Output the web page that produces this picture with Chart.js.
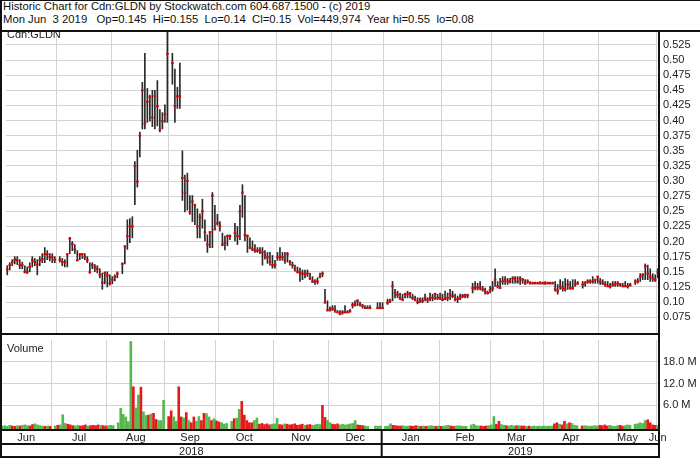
<!DOCTYPE html>
<html>
<head>
<meta charset="utf-8">
<title>Cdn:GLDN historic chart</title>
<script src="https://cdn.jsdelivr.net/npm/chart.js@4.4.1/dist/chart.umd.min.js"></script>
<style>
  body { margin: 0; width: 700px; height: 458px; overflow: hidden; background: #fff; position: relative;
         font-family: "Liberation Sans", Arial, sans-serif; color: #111; }
  #top { position: absolute; left: 0; top: 0; width: 700px; height: 27px; box-sizing: border-box;
         border-top: 1px solid #111; border-left: 2px solid #111; }
  #head { position: absolute; left: 3px; top: 0; font-size: 11.3px; line-height: 13px; white-space: pre; }
  .box { position: absolute; left: 0; width: 700px; }
  .tag { position: absolute; left: 7px; font-size: 11px; line-height: 13px; color: #222; }
</style>
</head>
<body>
<div id="top"></div>
<div id="head">Historic Chart for Cdn:GLDN by Stockwatch.com 604.687.1500 - (c) 2019
Mon Jun  3 2019   Op=0.145  Hi=0.155  Lo=0.14  Cl=0.15  Vol=449,974  Year hi=0.55  lo=0.08</div>
<div class="box" style="top:26px;height:314px"><canvas id="price"></canvas></div>
<div class="box" style="top:338px;height:120px"><canvas id="volume"></canvas></div>
<div class="tag" style="top:28px">Cdn:GLDN</div>
<div class="tag" style="top:342px">Volume</div>
<script>
// one slot per weekday, holidays stay empty
const startDay = "2018-06-04";
const endDay = "2019-06-03";
const holidays = ["2018-07-02", "2018-08-06", "2018-09-03", "2018-10-08", "2018-12-25", "2018-12-26",
                  "2019-01-01", "2019-02-18", "2019-04-19", "2019-05-20"];

const monthNames = ["Jun", "Jul", "Aug", "Sep", "Oct", "Nov", "Dec", "Jan", "Feb", "Mar", "Apr", "May", "Jun"];
const yearNames = ["2018", "2019"];
const priceTicks = [0.075, 0.1, 0.125, 0.15, 0.175, 0.2, 0.225, 0.25, 0.275, 0.3, 0.325, 0.35,
                    0.375, 0.4, 0.425, 0.45, 0.475, 0.5, 0.525];
const volumeTicks = [6, 12, 18];

// one value per trading day, a line per month
const highs = [
  0.16, 0.165, 0.17, 0.175, 0.175, 0.17, 0.166, 0.16, 0.158, 0.165, 0.175, 0.172, 0.17, 0.175, 0.18, 0.19, 0.185, 0.18, 0.18, 0.175,
  0.175, 0.172, 0.17, 0.18, 0.207, 0.2, 0.195, 0.185, 0.18, 0.18, 0.18, 0.175, 0.165, 0.165, 0.162, 0.16, 0.155, 0.148, 0.15, 0.15, 0.145,
  0.142, 0.145, 0.15, 0.165, 0.193, 0.236, 0.238, 0.241, 0.332, 0.351, 0.381, 0.463, 0.511, 0.453, 0.442, 0.45, 0.45, 0.466, 0.418, 0.413, 0.426, 0.55,
  0.511, 0.485, 0.455, 0.495, 0.35, 0.31, 0.313, 0.276, 0.276, 0.262, 0.254, 0.246, 0.27, 0.236, 0.211, 0.217, 0.281, 0.26, 0.245,
  0.233, 0.214, 0.209, 0.211, 0.211, 0.23, 0.225, 0.26, 0.294, 0.276, 0.211, 0.206, 0.201, 0.195, 0.19, 0.19, 0.19, 0.185, 0.182, 0.182, 0.177, 0.169,
  0.182, 0.19, 0.182, 0.182, 0.182, 0.169, 0.166, 0.161, 0.158, 0.156, 0.153, 0.153, 0.153, 0.148, 0.142, 0.137, 0.14, 0.148, 0.15, 0.121, 0.102, 0.092,
  0.094, 0.094, 0.086, 0.086, 0.086, 0.094, 0.086, 0.088, 0.099, 0.102, 0.104, 0.1, 0.096, 0.094, 0.094, 0.094, 0.099, 0.099, 0.099,
  0.105, 0.105, 0.134, 0.121, 0.118, 0.115, 0.113, 0.115, 0.118, 0.115, 0.113, 0.11, 0.107, 0.107, 0.107, 0.113, 0.107, 0.115, 0.113, 0.115, 0.113, 0.115,
  0.113, 0.118, 0.115, 0.121, 0.118, 0.113, 0.11, 0.113, 0.113, 0.113, 0.113, 0.131, 0.134, 0.131, 0.134, 0.126, 0.123, 0.118, 0.126,
  0.134, 0.155, 0.134, 0.139, 0.142, 0.142, 0.139, 0.139, 0.142, 0.142, 0.142, 0.142, 0.139, 0.137, 0.137, 0.134, 0.133, 0.133, 0.133, 0.134, 0.133,
  0.134, 0.133, 0.133, 0.133, 0.134, 0.129, 0.137, 0.134, 0.139, 0.137, 0.134, 0.137, 0.137, 0.134, 0.134, 0.134, 0.137, 0.137, 0.142, 0.137, 0.142,
  0.139, 0.137, 0.134, 0.134, 0.131, 0.134, 0.134, 0.134, 0.131, 0.131, 0.134, 0.131, 0.131, 0.137, 0.139, 0.147, 0.147, 0.163, 0.161, 0.155, 0.147, 0.145,
  0.155
];
const lows = [
  0.145, 0.153, 0.16, 0.163, 0.162, 0.155, 0.155, 0.148, 0.147, 0.15, 0.158, 0.16, 0.145, 0.16, 0.165, 0.165, 0.17, 0.168, 0.165, 0.165,
  0.166, 0.16, 0.158, 0.158, 0.18, 0.185, 0.18, 0.168, 0.17, 0.172, 0.17, 0.165, 0.148, 0.155, 0.15, 0.148, 0.14, 0.121, 0.13, 0.125, 0.128,
  0.13, 0.135, 0.14, 0.147, 0.163, 0.187, 0.198, 0.206, 0.261, 0.29, 0.34, 0.386, 0.386, 0.397, 0.399, 0.39, 0.386, 0.391, 0.381, 0.386, 0.397, 0.397,
  0.46, 0.397, 0.42, 0.42, 0.268, 0.249, 0.252, 0.245, 0.233, 0.228, 0.206, 0.206, 0.222, 0.201, 0.182, 0.19, 0.19, 0.22, 0.227,
  0.217, 0.193, 0.186, 0.193, 0.203, 0.201, 0.195, 0.203, 0.24, 0.201, 0.182, 0.188, 0.185, 0.182, 0.182, 0.18, 0.161, 0.171, 0.164, 0.161, 0.156, 0.156,
  0.169, 0.169, 0.169, 0.164, 0.166, 0.161, 0.156, 0.151, 0.148, 0.134, 0.137, 0.14, 0.142, 0.137, 0.132, 0.129, 0.13, 0.14, 0.142, 0.099, 0.086, 0.085,
  0.086, 0.083, 0.083, 0.08, 0.08, 0.083, 0.083, 0.083, 0.09, 0.093, 0.094, 0.093, 0.09, 0.09, 0.09, 0.09, 0.09, 0.09, 0.09,
  0.096, 0.099, 0.102, 0.107, 0.107, 0.104, 0.102, 0.107, 0.107, 0.107, 0.104, 0.102, 0.097, 0.099, 0.099, 0.102, 0.099, 0.102, 0.102, 0.104, 0.104, 0.104,
  0.102, 0.104, 0.102, 0.104, 0.107, 0.102, 0.099, 0.104, 0.107, 0.107, 0.107, 0.115, 0.12, 0.12, 0.12, 0.118, 0.113, 0.113, 0.115,
  0.118, 0.126, 0.123, 0.123, 0.129, 0.129, 0.129, 0.131, 0.131, 0.131, 0.131, 0.129, 0.131, 0.129, 0.131, 0.13, 0.13, 0.13, 0.13, 0.13, 0.13,
  0.129, 0.13, 0.13, 0.13, 0.118, 0.113, 0.121, 0.118, 0.118, 0.121, 0.121, 0.121, 0.126, 0.129, 0.123, 0.126, 0.131, 0.131, 0.131, 0.131, 0.131,
  0.129, 0.129, 0.126, 0.126, 0.123, 0.126, 0.126, 0.126, 0.126, 0.126, 0.126, 0.123, 0.126, 0.129, 0.131, 0.134, 0.137, 0.137, 0.137, 0.134, 0.134, 0.134,
  0.14
];
const closes = [
  0.154, 0.161, 0.166, 0.17, 0.169, 0.161, 0.161, 0.15, 0.15, 0.158, 0.169, 0.166, 0.162, 0.169, 0.171, 0.179, 0.179, 0.174, 0.174, 0.17,
  0.17, 0.166, 0.166, 0.179, 0.205, 0.196, 0.187, 0.169, 0.179, 0.179, 0.174, 0.169, 0.149, 0.161, 0.157, 0.155, 0.145, 0.132, 0.148, 0.144, 0.131,
  0.137, 0.142, 0.147, 0.163, 0.192, 0.209, 0.225, 0.225, 0.325, 0.299, 0.375, 0.45, 0.395, 0.431, 0.439, 0.405, 0.44, 0.424, 0.385, 0.399, 0.41, 0.51,
  0.495, 0.424, 0.44, 0.44, 0.305, 0.281, 0.3, 0.249, 0.266, 0.26, 0.225, 0.24, 0.25, 0.215, 0.195, 0.215, 0.276, 0.22, 0.23,
  0.225, 0.195, 0.198, 0.209, 0.209, 0.214, 0.209, 0.25, 0.281, 0.211, 0.209, 0.19, 0.187, 0.185, 0.185, 0.185, 0.182, 0.177, 0.174, 0.166, 0.161, 0.161,
  0.174, 0.175, 0.174, 0.169, 0.179, 0.166, 0.161, 0.155, 0.15, 0.148, 0.147, 0.146, 0.147, 0.139, 0.134, 0.134, 0.134, 0.142, 0.147, 0.099, 0.086, 0.088,
  0.089, 0.087, 0.083, 0.08, 0.083, 0.083, 0.083, 0.085, 0.095, 0.096, 0.102, 0.096, 0.094, 0.09, 0.09, 0.09, 0.09, 0.09, 0.09,
  0.099, 0.102, 0.126, 0.115, 0.112, 0.107, 0.104, 0.113, 0.113, 0.115, 0.107, 0.104, 0.1, 0.104, 0.102, 0.107, 0.104, 0.107, 0.107, 0.113, 0.107, 0.107,
  0.104, 0.105, 0.107, 0.113, 0.11, 0.104, 0.105, 0.107, 0.11, 0.111, 0.111, 0.123, 0.124, 0.124, 0.124, 0.121, 0.118, 0.115, 0.12,
  0.123, 0.137, 0.126, 0.123, 0.134, 0.137, 0.134, 0.134, 0.139, 0.139, 0.134, 0.139, 0.137, 0.131, 0.134, 0.131, 0.131, 0.131, 0.131, 0.131, 0.131,
  0.131, 0.131, 0.131, 0.131, 0.121, 0.118, 0.126, 0.123, 0.121, 0.129, 0.123, 0.123, 0.129, 0.131, 0.129, 0.131, 0.134, 0.134, 0.134, 0.137, 0.142,
  0.134, 0.131, 0.129, 0.126, 0.126, 0.129, 0.129, 0.131, 0.129, 0.126, 0.126, 0.126, 0.128, 0.134, 0.134, 0.142, 0.145, 0.159, 0.147, 0.142, 0.139, 0.137,
  0.15
];
// millions of shares
const volumes = [
  0.3, 0.4, 0.2, 0.5, 0.3, 0.2, 0.4, 0.3, 0.5, 0.6, 0.4, 0.3, 0.7, 0.9, 0.6, 0.4, 0.3, 0.2, 0.3, 0.2,
  0.3, 0.5, 0.6, 3.4, 1.0, 0.8, 0.6, 0.4, 0.3, 0.5, 0.3, 0.4, 0.6, 0.3, 0.4, 0.5, 0.4, 0.6, 0.5, 0.4, 0.3,
  0.4, 0.5, 0.4, 1.2, 5.2, 3.5, 2.8, 1.5, 23.6, 11.1, 5.3, 8.8, 11.0, 4.2, 3.2, 3.3, 3.6, 3.8, 2.1, 1.8, 1.8, 7.4,
  2.9, 4.5, 2.8, 1.6, 11.1, 2.8, 2.5, 4.0, 1.8, 1.2, 2.8, 1.6, 2.9, 1.8, 3.8, 3.7, 2.8, 1.8, 2.3,
  1.7, 1.4, 1.2, 0.8, 1.0, 1.6, 2.3, 2.5, 4.9, 7.1, 3.3, 1.8, 1.2, 1.2, 1.8, 2.5, 0.8, 1.0, 0.7, 0.9, 0.6, 0.8,
  0.9, 2.4, 0.7, 0.6, 0.9, 0.8, 0.6, 0.7, 0.9, 0.5, 0.6, 0.8, 0.5, 0.6, 0.7, 0.5, 0.6, 0.8, 0.7, 6.0, 2.7, 1.9,
  1.2, 0.8, 0.7, 0.9, 0.6, 0.8, 0.6, 0.7, 0.9, 1.0, 1.8, 0.6, 0.5, 0.4, 0.3, 0.2, 0.3, 0.2, 0.3,
  0.2, 0.3, 0.9, 0.5, 0.4, 0.3, 0.3, 0.4, 0.2, 0.3, 0.3, 0.2, 0.4, 0.3, 0.2, 0.3, 0.2, 0.3, 0.4, 0.3, 0.2, 0.3,
  0.2, 0.3, 0.4, 0.5, 0.3, 0.2, 0.3, 0.4, 0.3, 0.2, 0.2, 0.6, 0.8, 0.4, 0.3, 0.3, 0.2, 0.3, 0.4,
  0.6, 2.9, 0.8, 1.6, 0.7, 0.5, 0.4, 0.3, 0.5, 0.3, 0.4, 0.4, 0.3, 0.3, 0.2, 0.3, 0.2, 0.3, 0.2, 0.3, 0.2,
  0.3, 0.2, 0.3, 0.2, 0.9, 1.2, 0.8, 0.6, 1.6, 0.9, 1.2, 1.0, 0.5, 0.4, 0.3, 0.4, 0.3, 0.2, 0.3, 0.4, 0.3,
  0.5, 0.4, 0.6, 0.3, 0.5, 0.3, 0.2, 0.4, 0.5, 0.3, 0.4, 0.6, 0.5, 0.8, 0.9, 1.2, 1.0, 1.8, 2.0, 1.2, 0.6, 0.5,
  0.45
];

const GRID = "#d3d3d3";
const FONT = { family: "'Liberation Sans', Arial, sans-serif", size: 11 };
const priceMin = 0.0472, priceMax = 0.5463;
const volMin = -0.8, volMax = 24;

// weekday slots and the trading days among them
const weekdays = [];
for (let t = Date.parse(startDay); t <= Date.parse(endDay); t += 864e5) {
    const d = new Date(t);
    if (d.getUTCDay() % 6 !== 0) weekdays.push(d.toISOString().slice(0, 10));
}
const slots = weekdays.map((d, i) => i).filter(i => !holidays.includes(weekdays[i]));
[highs, lows, closes, volumes].forEach((a, n) => {
    if (a.length !== slots.length) console.error("series", n, "has", a.length, "values, expected", slots.length);
});

function spans(len) {
    const out = [];
    weekdays.forEach((d, i) => {
        const key = d.slice(0, len);
        const last = out[out.length - 1];
        if (last && last.key === key) last.end = i;
        else out.push({ key, start: i, end: i });
    });
    return out;
}
const months = spans(7), years = spans(4);
const xMin = -0.5, xMax = weekdays.length - 0.5;
const monthBounds = months.slice(1).map(m => m.start - 0.5);
const monthCenters = months.map(m => (m.start + m.end) / 2);
const yearBounds = years.slice(1).map(y => y.start - 0.5);
const yearCenters = years.map((y, i) => ((i ? y.start - 0.5 : xMin) + (i < years.length - 1 ? y.end + 0.5 : xMax)) / 2);

const rangeData = slots.map((s, k) => ({ x: s, y: [lows[k], highs[k]] }));
const closeData = slots.map((s, k) => ({ x: s, y: closes[k] }));
const volumeData = slots.map((s, k) => ({ x: s, y: volumes[k] }));
const volumeColors = closes.map((c, k) => (k && c < closes[k - 1] ? "#e31b1b" : "#56b74e"));

const framePlugin = {
    id: "frame",
    afterDraw(chart, args, opts) {
        const ctx = chart.ctx;
        ctx.save();
        ctx.strokeStyle = "#111";
        ctx.lineWidth = 2;
        ctx.beginPath();
        opts.lines(chart).forEach(([x1, y1, x2, y2]) => { ctx.moveTo(x1, y1); ctx.lineTo(x2, y2); });
        ctx.stroke();
        ctx.restore();
    }
};

// no label overhang padding: the panels sit edge to edge
function flat(s) {
    s.paddingTop = s.paddingBottom = s.paddingLeft = s.paddingRight = 0;
}

function gridAxis() {
    return {
        type: "linear", min: xMin, max: xMax, offset: false,
        afterBuildTicks: s => { s.ticks = monthBounds.map(v => ({ value: v })); },
        ticks: { display: false },
        grid: { color: GRID, drawTicks: false, offset: false },
        border: { display: false },
        afterFit: s => { s.height = 0; flat(s); }
    };
}

function labelAxis(centers, names, weight) {
    return {
        type: "linear", min: xMin, max: xMax, offset: false, weight,
        afterBuildTicks: s => { s.ticks = centers.map(v => ({ value: v })); },
        ticks: { font: FONT, color: "#222", padding: 1, autoSkip: false, maxRotation: 0,
                 callback: (v, i) => names[i] },
        grid: { display: false, drawTicks: false },
        border: { display: false },
        afterFit: s => { s.height = 14; flat(s); }
    };
}

function valueAxis(min, max, ticks, format) {
    return {
        type: "linear", position: "right", min, max, beginAtZero: false,
        afterBuildTicks: s => { s.ticks = ticks.map(v => ({ value: v })); },
        ticks: { font: FONT, color: "#222", padding: 4, callback: format },
        grid: { color: GRID, drawTicks: false },
        border: { display: false },
        afterFit: s => { s.width = 41; flat(s); }
    };
}

const common = { animation: false, responsive: true, maintainAspectRatio: false, events: [] };

new Chart(document.getElementById("price"), {
    type: "bar",
    data: {
        datasets: [
            { type: "bar", data: rangeData, backgroundColor: "#2a2a2a", borderWidth: 0,
              barThickness: 1, grouped: false, order: 2 },
            { type: "line", data: closeData, showLine: false, pointStyle: "line", pointRadius: 1.3,
              pointBorderWidth: 2, pointBorderColor: "#e00000", borderColor: "#e00000", order: 1 }
        ]
    },
    options: {
        ...common,
        layout: { padding: { top: 2, left: 1, bottom: 1, right: 0 } },
        plugins: {
            legend: { display: false },
            tooltip: { enabled: false },
            frame: {
                lines: c => {
                    const a = c.chartArea;
                    return [[0, a.top - 1, c.width, a.top - 1], [1, 0, 1, c.height],
                            [0, a.bottom, a.right, a.bottom], [a.right, a.top - 1, a.right, c.height]];
                }
            }
        },
        scales: {
            x: gridAxis(),
            y: valueAxis(priceMin, priceMax, priceTicks,
                         v => (Math.round(v * 1000) % 10 === 0 ? v.toFixed(2) : v.toFixed(3)))
        }
    },
    plugins: [framePlugin]
});

new Chart(document.getElementById("volume"), {
    type: "bar",
    data: {
        datasets: [
            { data: volumeData, backgroundColor: volumeColors, borderWidth: 0, barThickness: 2,
              base: volMin, grouped: false, xAxisID: "x", yAxisID: "y" }
        ]
    },
    options: {
        ...common,
        layout: { padding: { top: 2, left: 1, bottom: 0, right: 0 } },
        plugins: {
            legend: { display: false },
            tooltip: { enabled: false },
            frame: {
                lines: c => {
                    const a = c.chartArea;
                    const rowY = c.scales.xm.bottom;
                    const split = c.scales.x.getPixelForValue(yearBounds[0]);
                    return [[1, 0, 1, c.height], [a.right, 0, a.right, c.height],
                            [0, a.bottom, a.right, a.bottom], [0, rowY, a.right, rowY],
                            [0, c.height - 1, a.right, c.height - 1], [split, a.bottom, split, c.height]];
                }
            }
        },
        scales: {
            x: gridAxis(),
            xm: labelAxis(monthCenters, monthNames, 1),
            xy: labelAxis(yearCenters, yearNames, 2),
            y: valueAxis(volMin, volMax, volumeTicks, v => v.toFixed(1) + " M")
        }
    },
    plugins: [framePlugin]
});
</script>
</body>
</html>
